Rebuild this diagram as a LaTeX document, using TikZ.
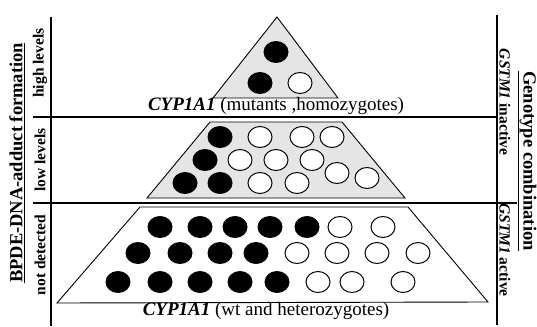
\documentclass[tikz,border=0pt]{standalone}
\usepackage{fontspec}
\setmainfont{Liberation Serif}
\tikzset{
    axisline/.style={line width=1.1pt},
    layer/.style={draw=black,line width=0.9pt,fill=gray!20},
    fulldot/.style={fill=black},
    opendot/.style={draw=black,fill=white,line width=1pt},
    bigtitle/.style={font=\fontsize{18.5}{20}\selectfont\bfseries},
    levelname/.style={font=\fontsize{15.5}{17}\selectfont\bfseries},
    genename/.style={font=\fontsize{19}{21}\selectfont}
}

\begin{document}
\begin{tikzpicture}[x=1pt,y=-1pt]
    \useasboundingbox (0,0) rectangle (537,326);
    % Pyramid layers
    \fill[layer] (277,17) -- (213,98) -- (338,98) -- cycle;
    \fill[layer] (210,122) -- (342,122) -- (405,198) -- (147,198) -- cycle;
    \fill[layer,fill=white] (140,207) -- (408,207) -- (488,302) -- (57,303) -- cycle;
    % Axes and dividers
    \draw[axisline] (51,17) -- (51,326);
    \draw[axisline] (497,15) -- (497,325);
    \draw[axisline] (33,117) -- (497,117);
    \draw[axisline] (33,203) -- (517,203);
    % Dots
    \foreach \cx/\cy in {276/52,260/83,
        220/137,205/160,185/183,220/183,
        160/227,200/227,235/227,270/227,307/227,
        138/253,180/253,220/253,256/253,
        118/282,160/282,200/282,240/282,277/282}
        \fill[fulldot] (\cx,\cy) ellipse [x radius=12.5pt,y radius=11pt];
    \foreach \cx/\cy in {300/83,
        260/137,302/137,332/137,
        240/160,276/160,312/160,
        260/183,297/183,337/173,367/178,
        340/227,383/227,
        297/253,337/253,377/253,418/253,
        318/282,352/282,403/282}
        \draw[opendot] (\cx,\cy) ellipse [x radius=12pt,y radius=10.5pt];
    % Labels
    \node[bigtitle,rotate=90] (bpde) at (17,163) {\underline{BPDE-DNA-adduct formation}};
    \node[levelname,rotate=90] (high) at (40,63) {high levels};
    \node[levelname,rotate=90] (low) at (40,160) {low levels};
    \node[levelname,rotate=90] (none) at (40,255) {not detected};
    \node[bigtitle,rotate=-90] (geno) at (527,161) {\underline{Genotype combination}};
    \node[levelname,rotate=-90] (inactive) at (505,102) {\textit{GSTM1} inactive};
    \node[levelname,rotate=-90] (active) at (505,250) {\textit{GSTM1} active};
    \node[genename] (mutants) at (276,106) {\textbf{\textit{CYP1A1}} (mutants ,homozygotes)};
    \node[genename] (wildtype) at (266,311) {\textbf{\textit{CYP1A1}} (wt and heterozygotes)};
\end{tikzpicture}
\end{document}
